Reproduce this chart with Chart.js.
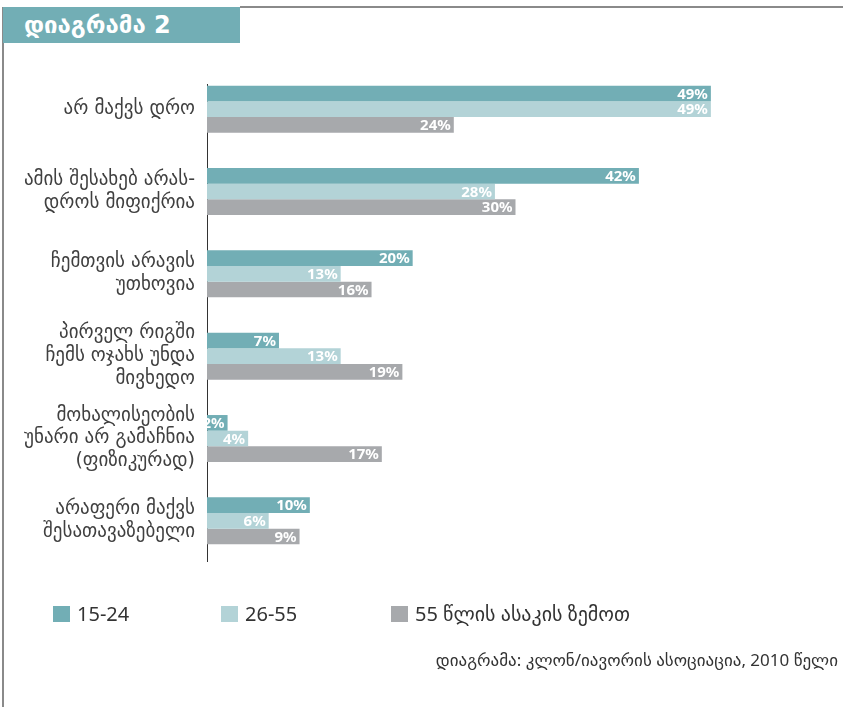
<!DOCTYPE html>
<html>
<head>
<meta charset="utf-8">
<script src="https://cdn.jsdelivr.net/npm/chart.js@4/dist/chart.umd.min.js"></script>
<style>
  html, body { margin: 0; padding: 0; background: #fff; }
  #wrap { position: relative; width: 843px; height: 707px; overflow: hidden; }
  #frameLeft { position: absolute; left: 2px; top: 7px; width: 2px; height: 700px; background: #8a8a8a; }
  #frameTop { position: absolute; left: 240px; top: 6px; width: 603px; height: 2px; background: #8a8a8a; }
  #title {
    position: absolute; left: 3px; top: 7px; width: 237px; height: 36px;
    background: #72aeb5; color: #fff; font: bold 24px "DejaVu Sans", sans-serif;
    line-height: 36px; padding-left: 21px; box-sizing: border-box;
  }
  #chartBox { position: absolute; left: 0; top: 0; width: 843px; height: 707px; }
  #legend { position: absolute; left: 53px; top: 600px; display: flex; font: 20px "Noto Sans", "DejaVu Sans", sans-serif; color: #333; }
  .item { display: flex; align-items: center; }
  .item span.box { display: inline-block; width: 17px; height: 16px; margin-right: 7px; }
  #source { position: absolute; right: 5px; top: 648px; font: 17px "Noto Sans", "DejaVu Sans", sans-serif; color: #333; }
</style>
</head>
<body>
<div id="wrap">
  <div id="chartBox"><canvas id="chart" width="843" height="707"></canvas></div>
  <div id="frameLeft"></div>
  <div id="frameTop"></div>
  <div id="title">დიაგრამა 2</div>
  <div id="legend"></div>
  <div id="source">დიაგრამა: კლონ/იავორის ასოციაცია, 2010 წელი</div>
</div>
<script>
const categories = [
  "არ მაქვს დრო",
  ["ამის შესახებ არას-", "დროს მიფიქრია"],
  ["ჩემთვის არავის", "უთხოვია"],
  ["პირველ რიგში", "ჩემს ოჯახს უნდა", "მივხედო"],
  ["მოხალისეობის", "უნარი არ გამაჩნია", "(ფიზიკურად)"],
  ["არაფერი მაქვს", "შესათავაზებელი"]
];
const seriesNames = ["15-24", "26-55", "55 წლის ასაკის ზემოთ"];
const age15to24 = [49, 42, 20, 7, 2, 10];
const age26to55 = [49, 28, 13, 13, 4, 6];
const age55plus = [24, 30, 16, 19, 17, 9];
const colors = ["#72aeb5", "#b3d3d7", "#a7a9ac"];

// white value labels at the end of each bar
const valueLabels = {
  id: "valueLabels",
  afterDatasetsDraw(chart) {
    const ctx = chart.ctx;
    ctx.save();
    ctx.font = "bold 15px 'Noto Sans', sans-serif";
    ctx.fillStyle = "#fff";
    ctx.textAlign = "right";
    ctx.textBaseline = "middle";
    chart.data.datasets.forEach((ds, i) => {
      chart.getDatasetMeta(i).data.forEach((bar, j) => {
        ctx.fillText(ds.data[j] + "%", bar.x - 3, bar.y + 1);
      });
    });
    ctx.restore();
  }
};

// vertical axis line, starting a little below the top of the plot
const axisLine = {
  id: "axisLine",
  beforeDatasetsDraw(chart) {
    const { ctx, chartArea } = chart;
    const x = chart.scales.y.right + 0.5;
    ctx.save();
    ctx.strokeStyle = "#333";
    ctx.lineWidth = 1;
    ctx.beginPath();
    ctx.moveTo(x, chartArea.top + 16);
    ctx.lineTo(x, chartArea.bottom);
    ctx.stroke();
    ctx.restore();
  }
};

const chart = new Chart(document.getElementById("chart"), {
  type: "bar",
  data: {
    labels: categories,
    datasets: [age15to24, age26to55, age55plus].map((d, i) => ({
      label: seriesNames[i],
      data: d,
      backgroundColor: colors[i],
      borderWidth: 0,
      categoryPercentage: 0.57,
      barPercentage: 1.0
    }))
  },
  options: {
    indexAxis: "y",
    responsive: false,
    animation: false,
    layout: { padding: { top: 68, right: 19, bottom: 145, left: 0 } },
    plugins: { legend: { display: false }, tooltip: { enabled: false } },
    scales: {
      x: { display: false, min: 0, max: 60 },
      y: {
        afterFit(scale) { scale.width = 207; },
        grid: { display: false, drawTicks: false },
        border: { display: false },
        ticks: {
          padding: 12,
          color: "#404040",
          font: { family: "'DejaVu Sans', sans-serif", size: 19, lineHeight: 1.2 }
        }
      }
    }
  },
  plugins: [valueLabels, axisLine]
});

// legend built from the dataset names and colours
const legend = document.getElementById("legend");
const widths = [168, 170, 0];
seriesNames.forEach((name, i) => {
  const el = document.createElement("div");
  el.className = "item";
  if (widths[i]) el.style.width = widths[i] + "px";
  el.innerHTML = '<span class="box" style="background:' + colors[i] + '"></span>' + name;
  legend.appendChild(el);
});
</script>
</body>
</html>
